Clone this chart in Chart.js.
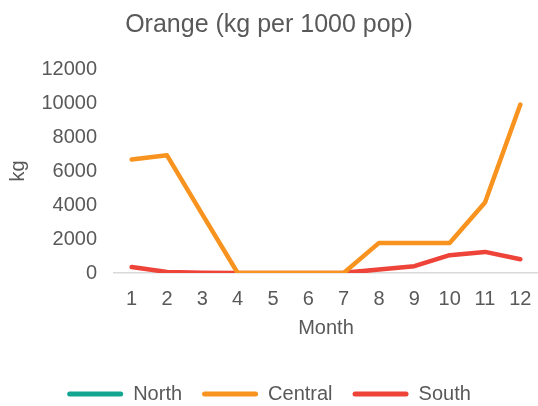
<!DOCTYPE html>
<html>
<head>
<meta charset="utf-8">
<script src="https://cdn.jsdelivr.net/npm/chart.js@4/dist/chart.umd.min.js"></script>
<style>
  html, body { margin: 0; padding: 0; background: #ffffff; }
  #wrap { width: 538px; height: 406px; }
</style>
</head>
<body>
<div id="wrap"><canvas id="c"></canvas></div>
<script>
// Monthly orange volumes, kg per 1000 population
const months = ['1', '2', '3', '4', '5', '6', '7', '8', '9', '10', '11', '12'];
const north = [null, null, null, null, null, null, null, null, null, null, null, null];
const central = [6680, 6920, 3450, 0, 0, 0, 0, 1770, 1770, 1770, 4150, 9910];
const south = [350, 60, 20, 0, 0, 0, 10, 200, 400, 1050, 1240, 810];
const yTicks = [0, 2000, 4000, 6000, 8000, 10000, 12000];

const FONT = '"Liberation Sans", Arial, sans-serif';
const TEXT = '#595959';

function series(label, data, color) {
  return {
    label: label,
    data: data,
    borderColor: color,
    backgroundColor: color,
    borderWidth: 4.5,
    borderCapStyle: 'round',
    borderJoinStyle: 'round',
    pointRadius: 0,
    tension: 0,
    fill: false
  };
}

new Chart(document.getElementById('c'), {
  type: 'line',
  data: {
    labels: months,
    datasets: [
      series('North', north, '#12a58f'),
      series('Central', central, '#f7931e'),
      series('South', south, '#ee4339')
    ]
  },
  options: {
    responsive: true,
    maintainAspectRatio: false,
    animation: false,
    layout: { padding: { left: 0, right: 0, top: 8, bottom: -8 } },
    plugins: {
      title: {
        display: true,
        text: 'Orange (kg per 1000 pop)',
        color: TEXT,
        font: { family: FONT, size: 25, weight: 'normal' },
        padding: { top: 2, bottom: 29 }
      },
      legend: {
        position: 'bottom',
        labels: {
          color: TEXT,
          font: { family: FONT, size: 20 },
          boxWidth: 56,
          boxHeight: 5,
          padding: 20,
          useBorderRadius: true,
          borderRadius: 2.5,
          generateLabels: function (chart) {
            return chart.data.datasets.map(function (ds, i) {
              return {
                text: ds.label,
                fillStyle: ds.borderColor,
                strokeStyle: ds.borderColor,
                lineWidth: 0,
                fontColor: TEXT,
                hidden: false,
                borderRadius: 2.5,
                datasetIndex: i
              };
            });
          }
        }
      },
      tooltip: { enabled: false }
    },
    scales: {
      x: {
        offset: true,
        afterFit: function (axis) { axis.paddingLeft = 0; axis.paddingRight = 0; },
        grid: { display: false, drawTicks: false },
        border: { display: true, color: '#d9d9d9', width: 1.5 },
        ticks: { color: TEXT, font: { family: FONT, size: 20 }, padding: 14, maxRotation: 0, autoSkip: false },
        title: { display: true, text: 'Month', color: TEXT, font: { family: FONT, size: 20 }, padding: { top: -9, bottom: 24 } }
      },
      y: {
        min: 0,
        max: 12000,
        afterBuildTicks: function (axis) { axis.ticks = yTicks.map(function (v) { return { value: v }; }); },
        afterFit: function (axis) { axis.width = 114; },
        grid: { display: false, drawTicks: false },
        border: { display: false },
        ticks: {
          color: TEXT,
          font: { family: FONT, size: 20 },
          padding: 17,
          callback: function (v) { return String(v); }
        },
        title: { display: true, text: 'kg', color: TEXT, font: { family: FONT, size: 20 }, padding: { top: 6, bottom: 8 } }
      }
    }
  }
});
</script>
</body>
</html>
